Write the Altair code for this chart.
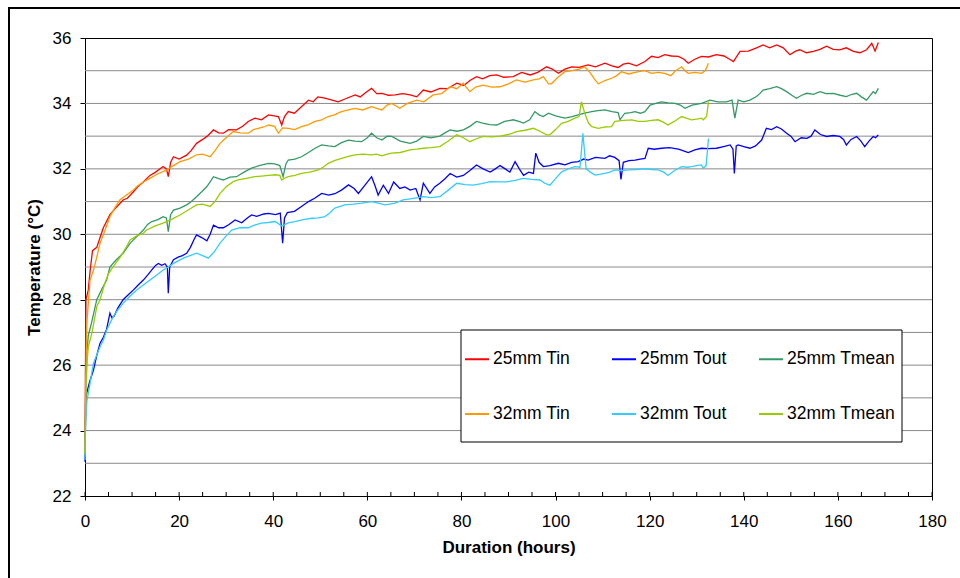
import altair as alt
import pandas as pd

# ---- data (hours, degC) ----
TIN_25 = [(0,23.5),(0.1,26.0),(0.2,28.0),(0.7,28.3),(1.1,28.9),(1.6,29.5),(2.5,29.6),(3.2,29.9),(3.9,30.2),(5.3,30.6),
          (6.5,30.8),(8.1,31.05),(9.0,31.1),(10.3,31.3),(11.2,31.45),(12.4,31.6),(13.8,31.8),(15.0,31.9),(16.6,32.07),(17.3,32.0),
          (17.7,31.76),(18.2,32.2),(18.8,32.37),(20.0,32.3),(21.6,32.42),(22.5,32.55),(23.7,32.78),(25.0,32.9),(26.0,33.0),(27.3,33.19),
          (28.4,33.1),(29.4,33.09),(30.5,33.2),(32.2,33.19),(33.5,33.3),(34.7,33.45),(36.1,33.55),(37.5,33.5),(39.0,33.65),(40.2,33.62),
          (41.1,33.6),(41.8,33.34),(42.4,33.6),(43.2,33.75),(44.5,33.7),(46.0,33.9),(47.5,34.1),(48.5,34.05),(49.5,34.2),(51.0,34.16),
          (52.5,34.1),(53.8,34.05),(55.5,34.15),(57.4,34.26),(58.5,34.2),(59.8,34.35),(60.9,34.46),(62.0,34.3),(63.1,34.31),(64.5,34.25),
          (65.9,34.26),(67.5,34.3),(69.1,34.26),(70.5,34.2),(71.9,34.41),(73.5,34.35),(75.4,34.46),(77.0,34.45),(79.0,34.62),(80.5,34.55),
          (81.8,34.7),(83.2,34.82),(84.5,34.75),(86.0,34.85),(87.5,34.87),(89.0,34.8),(91.0,34.82),(92.8,34.95),(94.6,34.87),(96.2,34.95),
          (98.1,35.12),(99.3,35.05),(100.6,34.92),(102.0,35.05),(103.4,35.12),(105.0,35.1),(106.9,35.18),(108.5,35.12),(110.5,35.23),(112.0,35.15),
          (113.3,35.1),(114.4,35.2),(115.5,35.23),(117.2,35.15),(119.0,35.28),(120.4,35.44),(121.8,35.4),(123.2,35.49),(124.6,35.45),(126.1,35.44),
          (127.3,35.35),(128.2,35.23),(129.6,35.35),(131.0,35.44),(132.5,35.42),(134.2,35.49),(135.8,35.45),(137.0,35.35),(137.8,35.28),(139.2,35.59),
          (141.0,35.6),(142.7,35.7),(144.1,35.79),(145.5,35.7),(147.0,35.79),(148.4,35.7),(149.8,35.49),(151.0,35.6),(151.9,35.64),(153.3,35.55),
          (154.8,35.59),(156.2,35.65),(157.6,35.75),(159.0,35.65),(160.4,35.64),(161.8,35.7),(163.3,35.59),(164.7,35.55),(166.1,35.64),(167.2,35.84),
          (167.9,35.6),(168.6,35.86)]

TOUT_25 = [(0,23.05),(0.1,24.2),(0.2,25.0),(0.35,25.14),(1.0,25.5),(1.8,25.85),(2.5,26.3),(3.2,26.67),(3.9,26.85),(4.6,27.1),
           (5.3,27.59),(5.7,27.45),(6.2,27.5),(7.0,27.75),(8.1,28.0),(9.2,28.15),(10.3,28.3),(11.3,28.45),(12.4,28.6),(13.3,28.75),
           (14.2,28.91),(15.0,29.05),(15.6,29.11),(16.3,29.05),(17.0,29.1),(17.5,29.0),(17.7,28.2),(18.0,29.0),(18.8,29.22),(19.8,29.3),
           (20.7,29.35),(21.6,29.42),(22.4,29.6),(23.2,29.85),(23.7,29.98),(24.8,29.9),(25.9,29.8),(26.6,30.0),(27.3,30.28),(28.4,30.2),
           (29.4,30.2),(30.6,30.3),(31.9,30.44),(33.3,30.35),(34.5,30.5),(35.4,30.59),(36.5,30.55),(38.0,30.62),(39.0,30.64),(40.5,30.6),
           (41.5,30.65),(42.0,29.73),(42.4,30.5),(43.0,30.66),(44.5,30.7),(46.0,30.85),(47.5,31.0),(48.8,31.1),(50.3,31.25),(51.8,31.2),
           (53.1,31.24),(54.5,31.35),(56.0,31.51),(57.2,31.4),(58.1,31.25),(59.5,31.5),(60.9,31.76),(61.6,31.5),(62.3,31.2),(63.4,31.5),
           (64.5,31.25),(65.6,31.6),(66.9,31.4),(68.0,31.45),(69.1,31.35),(70.3,31.4),(71.2,31.05),(71.9,31.56),(73.3,31.25),(74.3,31.45),
           (75.4,31.56),(76.5,31.7),(77.6,31.86),(79.0,31.75),(80.4,31.8),(81.8,31.95),(83.2,32.12),(84.6,32.0),(86.1,31.9),(87.2,32.0),
           (88.2,32.1),(89.3,32.0),(90.3,31.9),(91.4,32.22),(92.3,32.0),(93.2,31.8),(94.3,31.9),(95.3,31.86),(95.8,32.48),(96.5,32.2),
           (97.4,32.07),(98.8,32.1),(100.6,32.17),(102.0,32.12),(103.4,32.2),(104.8,32.22),(106.0,32.3),(106.9,32.27),(108.5,32.35),(110.5,32.32),
           (111.5,32.4),(112.6,32.35),(113.5,32.25),(113.9,31.68),(114.4,32.2),(115.6,32.25),(116.9,32.27),(118.0,32.3),(119.0,32.32),(119.7,32.63),
           (121.0,32.6),(122.5,32.63),(124.2,32.65),(126.1,32.6),(127.2,32.55),(128.2,32.5),(129.6,32.58),(131.0,32.63),(132.5,32.62),(134.2,32.63),
           (135.7,32.68),(137.1,32.73),(137.7,32.6),(138.0,31.86),(138.4,32.7),(138.8,32.73),(140.0,32.68),(141.3,32.63),(142.5,32.7),(143.8,32.88),
           (144.8,33.24),(145.9,33.2),(147.0,33.29),(148.0,33.22),(149.1,33.09),(150.0,33.0),(150.9,32.83),(152.2,32.95),(153.4,32.93),(154.3,33.0),
           (155.1,33.19),(156.3,33.05),(157.6,32.99),(159.0,33.02),(160.4,32.99),(161.2,32.9),(161.8,32.73),(162.8,32.9),(164.0,32.99),(164.9,32.85),
           (165.7,32.68),(166.6,32.85),(167.5,32.99),(168.0,32.95),(168.6,33.04)]

TMEAN_25 = [(0,23.2),(0.15,25.0),(0.4,26.4),(0.7,26.9),(1.4,27.3),(2.5,28.0),(3.5,28.3),(4.6,28.6),(5.3,29.0),(6.5,29.2),
            (8.1,29.42),(9.6,29.73),(10.3,29.83),(12.4,30.13),(13.3,30.3),(14.2,30.39),(15.5,30.45),(16.6,30.54),(17.3,30.5),(17.7,30.08),
            (18.2,30.6),(18.8,30.74),(20.2,30.8),(21.6,30.9),(22.6,31.0),(23.7,31.15),(24.8,31.3),(25.9,31.46),(26.6,31.6),(27.3,31.76),
            (28.4,31.7),(29.4,31.66),(30.8,31.75),(32.2,31.76),(33.8,31.9),(35.4,32.02),(37.0,32.1),(39.0,32.17),(40.3,32.15),(41.4,32.1),
            (42.1,31.76),(42.7,32.15),(43.2,32.27),(44.6,32.3),(46.0,32.37),(47.5,32.5),(48.9,32.63),(50.3,32.73),(51.7,32.7),(53.1,32.68),
            (54.5,32.8),(56.0,32.88),(57.4,32.85),(58.8,32.83),(60.0,32.95),(60.9,33.09),(62.0,32.95),(63.1,32.88),(64.2,33.0),(65.2,32.99),
            (67.0,32.85),(69.1,32.78),(70.5,32.85),(71.9,32.99),(73.5,32.95),(75.4,33.0),(76.5,33.1),(77.6,33.19),(79.0,33.15),(80.4,33.19),
            (81.8,33.3),(83.2,33.45),(84.5,33.4),(86.0,33.35),(87.5,33.34),(89.2,33.45),(91.0,33.5),(92.2,33.45),(93.2,33.4),(94.5,33.5),
            (95.6,33.75),(96.5,33.65),(97.4,33.6),(98.5,33.7),(100.0,33.62),(102.0,33.55),(103.5,33.6),(104.8,33.65),(106.2,33.7),(107.7,33.75),
            (109.0,33.78),(110.5,33.8),(112.0,33.75),(113.3,33.72),(113.7,33.5),(114.7,33.7),(116.0,33.72),(116.9,33.75),(118.0,33.7),(119.0,33.75),
            (120.1,33.95),(121.3,34.0),(122.5,34.05),(124.0,34.02),(125.4,34.0),(126.5,33.95),(127.5,33.85),(129.0,33.95),(131.0,34.0),(132.8,34.1),
            (134.5,34.05),(136.3,34.05),(137.5,34.1),(138.1,33.55),(138.8,34.1),(140.0,34.05),(141.3,34.1),(142.7,34.21),(143.4,34.3),(144.1,34.41),
            (145.5,34.45),(147.0,34.51),(148.0,34.45),(149.1,34.36),(150.2,34.25),(151.2,34.16),(152.3,34.25),(153.4,34.31),(154.8,34.28),(156.2,34.36),
            (157.5,34.3),(159.0,34.31),(160.5,34.25),(161.8,34.21),(163.0,34.28),(164.0,34.31),(165.0,34.2),(166.1,34.1),(167.5,34.36),(168.0,34.3),
            (168.6,34.46)]

TIN_32 = [(0,23.3),(0.15,25.5),(0.4,27.3),(1.06,28.6),(1.8,28.9),(2.5,29.3),(3.2,29.73),(4.2,30.1),(5.3,30.54),(6.3,30.8),
          (7.4,31.05),(8.8,31.2),(10.3,31.35),(11.0,31.46),(12.4,31.6),(13.8,31.71),(15.5,31.85),(17.4,31.97),(18.8,32.1),(20.2,32.22),
          (22.0,32.3),(23.7,32.43),(25.0,32.45),(26.6,32.37),(27.6,32.55),(28.7,32.78),(30.0,32.95),(31.5,33.14),(33.0,33.1),(34.7,33.09),
          (35.8,33.2),(36.8,33.24),(38.0,33.28),(39.0,33.34),(40.3,33.3),(41.1,33.09),(42.0,33.25),(43.2,33.24),(44.6,33.2),(46.0,33.29),
          (47.5,33.35),(48.9,33.45),(50.3,33.5),(51.7,33.6),(53.0,33.65),(54.5,33.75),(56.0,33.8),(57.4,33.85),(59.0,33.8),(60.9,33.9),
          (62.0,33.85),(63.1,33.8),(64.2,33.95),(65.2,34.0),(66.9,33.85),(68.5,34.0),(70.5,34.1),(72.0,34.05),(74.0,34.26),(75.8,34.3),
          (77.6,34.51),(79.0,34.45),(80.4,34.62),(81.0,34.5),(81.8,34.36),(83.0,34.5),(84.6,34.56),(86.5,34.5),(88.2,34.51),(90.0,34.6),
          (91.7,34.72),(93.5,34.65),(95.3,34.72),(96.5,34.75),(97.4,34.82),(98.5,34.6),(99.1,34.6),(100.5,34.8),(102.0,34.97),(103.5,35.0),
          (105.0,35.05),(106.2,35.12),(107.3,34.95),(108.4,34.72),(109.1,34.6),(110.5,34.7),(111.9,34.77),(113.0,34.85),(114.0,34.97),(115.5,34.9),
          (117.6,34.97),(119.0,35.0),(120.4,34.92),(121.8,34.95),(123.2,34.92),(124.5,34.85),(125.5,35.0),(126.8,35.12),(127.5,35.0),(128.2,34.92),
          (129.6,34.95),(131.0,34.92),(131.8,35.0),(132.5,35.23)]

TOUT_32 = [(0,23.1),(0.15,24.3),(0.4,24.9),(0.7,25.14),(1.8,26.06),(3.2,26.56),(3.9,26.77),(4.6,27.07),(6.0,27.48),(7.0,27.7),
           (8.1,27.89),(9.5,28.1),(11.0,28.3),(12.4,28.45),(13.8,28.6),(15.2,28.75),(16.6,28.91),(17.7,29.0),(18.8,29.11),(20.9,29.27),
           (22.3,29.35),(23.7,29.42),(25.0,29.35),(26.2,29.27),(27.4,29.45),(28.7,29.73),(30.0,29.95),(31.2,30.13),(32.9,30.2),(34.7,30.2),
           (36.0,30.28),(37.5,30.34),(39.0,30.36),(40.4,30.39),(41.8,30.25),(43.2,30.35),(44.6,30.39),(46.4,30.45),(48.2,30.49),(49.6,30.5),
           (51.0,30.54),(52.0,30.65),(53.1,30.8),(55.2,30.9),(57.0,30.92),(58.8,30.95),(60.9,31.0),(62.3,30.95),(63.8,30.9),(65.9,30.95),
           (67.6,31.05),(69.8,31.1),(71.9,31.15),(73.6,31.12),(75.4,31.15),(77.2,31.35),(79.0,31.56),(80.8,31.52),(82.5,31.5),(84.3,31.55),
           (86.1,31.61),(87.9,31.6),(89.6,31.6),(91.4,31.65),(93.1,31.71),(94.9,31.68),(96.7,31.66),(97.7,31.56),(98.8,31.5),(100.0,31.7),
           (101.3,31.91),(102.7,32.0),(104.1,32.07),(105.2,32.05),(105.8,33.09),(106.5,32.0),(107.4,31.9),(108.4,31.81),(110.5,31.86),(111.5,31.9),
           (112.6,31.97),(114.0,31.95),(115.5,31.97),(117.2,31.98),(119.0,32.0),(120.4,31.98),(121.8,31.97),(123.0,31.9),(123.9,31.8),(125.3,31.95),
           (126.8,32.07),(128.0,32.05),(128.9,32.07),(130.0,32.1),(131.0,32.12),(131.4,32.02),(132.0,32.1),(132.5,32.93)]

TMEAN_32 = [(0,23.3),(0.15,24.8),(0.4,26.0),(0.7,26.56),(1.5,27.0),(2.5,27.79),(3.2,28.0),(4.2,28.5),(5.0,28.8),(6.0,29.01),
            (7.5,29.3),(8.8,29.62),(9.6,29.83),(11.0,29.95),(12.4,30.03),(13.1,30.13),(14.8,30.25),(16.6,30.34),(18.3,30.45),(20.2,30.59),
            (22.0,30.75),(23.7,30.9),(25.0,30.92),(26.6,30.85),(27.6,31.0),(28.7,31.25),(30.0,31.45),(31.5,31.61),(32.5,31.66),(34.0,31.7),
            (36.1,31.76),(37.5,31.78),(39.0,31.8),(40.5,31.82),(41.4,31.8),(41.8,31.66),(42.5,31.72),(43.2,31.76),(44.6,31.8),(46.0,31.86),
            (47.8,31.9),(49.6,31.97),(50.6,32.05),(51.7,32.17),(53.0,32.25),(54.5,32.32),(56.0,32.38),(57.4,32.43),(59.0,32.45),(60.9,32.43),
            (62.0,32.45),(63.1,32.4),(64.2,32.45),(65.2,32.48),(67.0,32.5),(69.1,32.58),(70.5,32.6),(71.9,32.63),(73.5,32.65),(75.4,32.68),
            (77.2,32.85),(79.0,33.04),(80.4,32.95),(81.8,32.83),(83.2,32.92),(84.6,32.99),(86.5,32.98),(88.2,33.0),(90.0,33.05),(91.7,33.14),
            (93.5,33.18),(95.3,33.24),(96.7,33.15),(98.1,33.04),(98.8,33.04),(100.0,33.2),(101.3,33.39),(102.7,33.45),(104.1,33.55),(105.0,33.6),
            (105.5,34.05),(106.2,33.7),(107.0,33.4),(107.7,33.29),(109.1,33.24),(110.5,33.28),(111.9,33.29),(112.6,33.45),(114.5,33.48),(116.2,33.5),
            (117.6,33.45),(119.0,33.45),(120.4,33.48),(121.8,33.5),(123.0,33.42),(123.9,33.34),(125.2,33.45),(126.8,33.6),(127.8,33.55),(128.9,33.5),
            (130.0,33.52),(131.0,33.55),(131.4,33.5),(132.1,33.6),(132.5,34.05)]

SERIES_NAMES = ["25mm Tin", "25mm Tout", "25mm Tmean", "32mm Tin", "32mm Tout", "32mm Tmean"]
SERIES_DATA = [TIN_25, TOUT_25, TMEAN_25, TIN_32, TOUT_32, TMEAN_32]
SERIES_COLORS = ["#FF0000", "#0000FF", "#339966", "#FF9900", "#33CCFF", "#99CC00"]

X_TICKS = list(range(0, 181, 20))
X_MINOR = list(range(0, 181, 5))
Y_TICKS = list(range(22, 37, 2))
Y_GRID = list(range(23, 36))

FONT = "Liberation Sans"

rows = []
for name, pts in zip(SERIES_NAMES, SERIES_DATA):
    for i, (t, v) in enumerate(pts):
        rows.append({"series": name, "t": t, "temp": v, "i": i})
df = pd.DataFrame(rows)

W, H = 847, 458
xscale = alt.Scale(domain=[0, 180], nice=False, zero=False)
yscale = alt.Scale(domain=[22, 36], nice=False, zero=False)

X_AXIS = alt.Axis(values=X_TICKS, title="Duration (hours)", grid=False,
                  domainColor="black", tickColor="black", tickSize=4,
                  labelFont=FONT, labelFontSize=17, labelColor="black", labelPadding=13,
                  labelFlush=False, labelOverlap=False,
                  titleFont=FONT, titleFontSize=17, titleFontWeight="bold", titleColor="black",
                  titlePadding=10)
Y_AXIS = alt.Axis(values=Y_TICKS, title="Temperature (°C)", grid=False,
                  domainColor="black", tickColor="black", tickSize=5,
                  labelFont=FONT, labelFontSize=17, labelColor="black", labelPadding=9,
                  labelFlush=False, labelOverlap=False,
                  titleFont=FONT, titleFontSize=17, titleFontWeight="bold", titleColor="black",
                  titlePadding=9)

grid = alt.Chart(pd.DataFrame({"temp": Y_GRID})).mark_rule(color="#8a8a8a", strokeWidth=1).encode(
    y=alt.Y("temp:Q", scale=yscale, axis=Y_AXIS)
)

lines = alt.Chart(df).mark_line(strokeWidth=1.3, interpolate="linear").encode(
    x=alt.X("t:Q", scale=xscale, axis=X_AXIS),
    y=alt.Y("temp:Q", scale=yscale, axis=Y_AXIS),
    color=alt.Color("series:N",
                    scale=alt.Scale(domain=SERIES_NAMES, range=SERIES_COLORS),
                    legend=alt.Legend(orient="none", legendX=379, legendY=308, columns=3,
                                      direction="horizontal",
                                      title=None, symbolType="stroke", symbolSize=576,
                                      symbolStrokeWidth=2, labelFont=FONT, labelFontSize=17.5,
                                      labelColor="black", labelOffset=3, columnPadding=7,
                                      rowPadding=33, gridAlign="all", padding=0)),
    order="i:Q",
)

legend_box = alt.Chart(alt.Data(values=[{}])).mark_rect(fill="white", stroke="black", strokeWidth=1).encode(
    x=alt.value(376), x2=alt.value(817), y=alt.value(292), y2=alt.value(404)
)

minor = alt.Chart(pd.DataFrame({"t": X_MINOR})).mark_rule(color="black", strokeWidth=1).encode(
    x=alt.X("t:Q", scale=xscale, axis=X_AXIS), y=alt.value(H), y2=alt.value(H - 4)
)

frame_left = alt.Chart(alt.Data(values=[{}])).mark_rule(color="black", strokeWidth=2).encode(
    x=alt.value(-76), y=alt.value(-30), y2=alt.value(545)
)
frame_top = alt.Chart(alt.Data(values=[{}])).mark_rule(color="black", strokeWidth=2).encode(
    y=alt.value(-30), x=alt.value(-77), x2=alt.value(880)
)

chart = alt.layer(grid, lines, legend_box, minor, frame_left, frame_top).properties(
    width=W, height=H,
    autosize=alt.AutoSizeParams(type="none"),
    padding={"left": 85, "top": 38, "right": 28, "bottom": 82},
).configure(background="white").configure_view(stroke="black", strokeWidth=1)

chart.save("out.html", embed_options={"renderer": "svg", "actions": False})
